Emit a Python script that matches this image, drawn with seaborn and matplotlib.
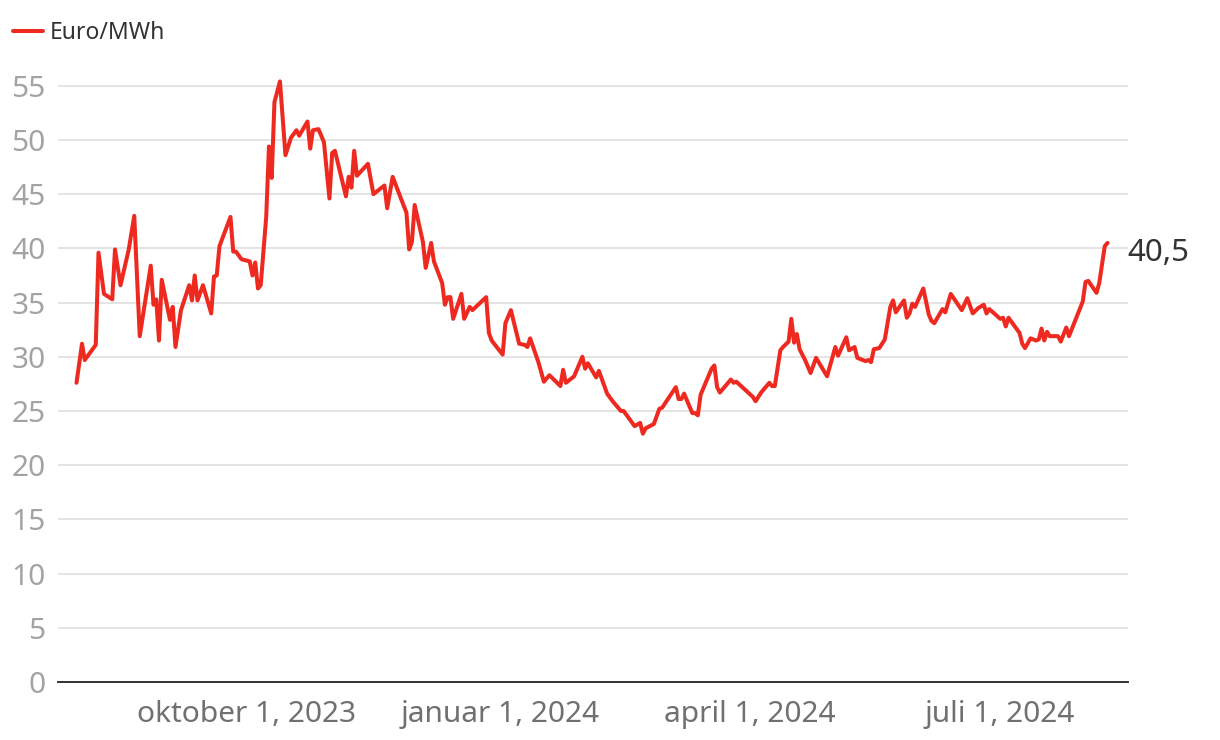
import pandas as pd
import matplotlib
matplotlib.use("Agg")
import matplotlib.pyplot as plt
import seaborn as sns

# Strømpris (Euro/MWh), lest av figuren
dates = [
    "2023-07-31", "2023-08-02", "2023-08-03", "2023-08-07", "2023-08-08", "2023-08-10",
    "2023-08-13", "2023-08-14", "2023-08-16", "2023-08-19", "2023-08-21", "2023-08-23",
    "2023-08-27", "2023-08-28", "2023-08-29", "2023-08-30", "2023-08-31",
    "2023-09-03", "2023-09-04", "2023-09-05", "2023-09-07", "2023-09-10", "2023-09-11",
    "2023-09-12", "2023-09-13", "2023-09-15", "2023-09-18", "2023-09-19", "2023-09-20",
    "2023-09-21", "2023-09-25", "2023-09-26", "2023-09-27", "2023-09-29",
    "2023-10-02", "2023-10-03", "2023-10-04", "2023-10-05", "2023-10-06", "2023-10-08",
    "2023-10-09", "2023-10-10", "2023-10-11", "2023-10-13", "2023-10-15", "2023-10-17",
    "2023-10-19", "2023-10-20", "2023-10-23", "2023-10-24", "2023-10-25", "2023-10-27",
    "2023-10-29", "2023-10-31",
    "2023-11-01", "2023-11-02", "2023-11-06", "2023-11-07", "2023-11-08", "2023-11-09",
    "2023-11-10", "2023-11-14", "2023-11-16", "2023-11-20", "2023-11-21", "2023-11-23",
    "2023-11-26", "2023-11-28", "2023-11-29", "2023-11-30",
    "2023-12-01", "2023-12-04", "2023-12-05", "2023-12-07", "2023-12-08", "2023-12-11",
    "2023-12-12", "2023-12-13", "2023-12-14", "2023-12-15", "2023-12-18", "2023-12-19",
    "2023-12-21", "2023-12-22", "2023-12-27", "2023-12-28", "2023-12-29",
    "2024-01-02", "2024-01-03", "2024-01-05", "2024-01-08", "2024-01-10", "2024-01-11",
    "2024-01-12", "2024-01-15", "2024-01-17", "2024-01-19", "2024-01-23", "2024-01-24",
    "2024-01-25", "2024-01-28", "2024-01-31",
    "2024-02-01", "2024-02-02", "2024-02-05", "2024-02-06", "2024-02-07", "2024-02-09",
    "2024-02-11", "2024-02-14", "2024-02-15", "2024-02-19", "2024-02-21", "2024-02-22",
    "2024-02-23", "2024-02-26", "2024-02-28", "2024-02-29",
    "2024-03-05", "2024-03-06", "2024-03-07", "2024-03-08", "2024-03-11", "2024-03-12",
    "2024-03-13", "2024-03-14", "2024-03-18", "2024-03-19", "2024-03-20", "2024-03-21",
    "2024-03-25", "2024-03-26", "2024-03-27",
    "2024-04-02", "2024-04-03", "2024-04-05", "2024-04-08", "2024-04-09", "2024-04-10",
    "2024-04-12", "2024-04-13", "2024-04-15", "2024-04-16", "2024-04-17", "2024-04-18",
    "2024-04-19", "2024-04-21", "2024-04-23", "2024-04-25", "2024-04-29",
    "2024-05-02", "2024-05-03", "2024-05-06", "2024-05-07", "2024-05-09", "2024-05-10",
    "2024-05-13", "2024-05-14", "2024-05-15", "2024-05-16", "2024-05-18", "2024-05-20",
    "2024-05-22", "2024-05-23", "2024-05-24", "2024-05-27", "2024-05-28", "2024-05-29",
    "2024-05-30", "2024-05-31",
    "2024-06-03", "2024-06-05", "2024-06-06", "2024-06-07", "2024-06-10", "2024-06-11",
    "2024-06-13", "2024-06-17", "2024-06-19", "2024-06-21", "2024-06-23", "2024-06-25",
    "2024-06-26", "2024-06-27",
    "2024-07-01", "2024-07-02", "2024-07-03", "2024-07-04", "2024-07-08", "2024-07-09",
    "2024-07-10", "2024-07-12", "2024-07-14", "2024-07-15", "2024-07-16", "2024-07-17",
    "2024-07-18", "2024-07-19", "2024-07-22", "2024-07-23", "2024-07-25", "2024-07-26",
    "2024-07-31",
    "2024-08-01", "2024-08-02", "2024-08-05", "2024-08-06", "2024-08-08", "2024-08-09",
]
prices = [
    27.6, 31.2, 29.7, 31.1, 39.6, 35.8,
    35.3, 39.9, 36.6, 39.9, 43.0, 31.9,
    38.4, 34.8, 35.3, 31.5, 37.1,
    33.4, 34.6, 30.9, 34.3, 36.6, 35.2,
    37.5, 35.2, 36.6, 34.0, 37.4, 37.5,
    40.2, 42.9, 39.7, 39.7, 39.0,
    38.8, 37.5, 38.7, 36.3, 36.6, 42.9,
    49.4, 46.5, 53.5, 55.4, 48.6, 50.2,
    50.9, 50.4, 51.7, 49.2, 50.9, 51.0,
    49.8, 44.6,
    48.8, 49.0, 44.8, 46.6, 45.6, 49.0,
    46.7, 47.8, 45.0, 45.8, 43.7, 46.6,
    44.6, 43.3, 39.9, 40.6,
    44.0, 40.6, 38.2, 40.5, 38.8, 36.8,
    34.8, 35.5, 35.5, 33.5, 35.8, 33.5,
    34.6, 34.3, 35.5, 32.2, 31.5,
    30.2, 33.1, 34.3, 31.2, 31.1, 30.9,
    31.7, 29.5, 27.7, 28.3, 27.3, 28.8,
    27.6, 28.2, 30.0,
    28.9, 29.4, 28.1, 28.7, 28.0, 26.6,
    25.9, 25.0, 25.0, 23.6, 23.9, 22.9,
    23.4, 23.8, 25.2, 25.3,
    27.2, 26.1, 26.1, 26.6, 24.8, 24.8,
    24.6, 26.5, 28.9, 29.2, 27.2, 26.7,
    27.9, 27.6, 27.7,
    26.3, 25.9, 26.7, 27.6, 27.3, 27.3,
    30.6, 30.9, 31.4, 33.5, 31.3, 32.1,
    30.7, 29.7, 28.5, 29.9, 28.2,
    30.9, 30.1, 31.8, 30.6, 30.9, 29.9,
    29.6, 29.7, 29.5, 30.7, 30.8, 31.6,
    34.6, 35.2, 34.1, 35.2, 33.6, 34.0,
    34.9, 34.6,
    36.3, 33.9, 33.3, 33.1, 34.4, 34.1,
    35.8, 34.3, 35.4, 34.0, 34.5, 34.8,
    34.0, 34.4,
    33.5, 33.6, 32.8, 33.6, 32.2, 31.2,
    30.8, 31.7, 31.5, 31.6, 32.6, 31.5,
    32.3, 31.9, 31.9, 31.4, 32.7, 31.9,
    35.1,
    36.9, 37.0, 35.9, 36.8, 40.2, 40.5,
]

tick_dates = ["2023-10-01", "2024-01-01", "2024-04-01", "2024-07-01"]
tick_labels = ["oktober 1, 2023", "januar 1, 2024", "april 1, 2024", "juli 1, 2024"]
y_ticks = list(range(0, 56, 5))

df = pd.DataFrame({"dato": pd.to_datetime(dates), "pris": prices})

sns.set_theme(style="white")
plt.rcParams["font.family"] = ["Noto Sans", "DejaVu Sans"]

red = "#ee2a20"

fig = plt.figure(figsize=(12.2, 7.4), dpi=100)
ax = fig.add_axes([0.0475, 0.0784, 0.877, 0.835])

sns.lineplot(data=df, x="dato", y="pris", color=red, linewidth=2.9,
             label="Euro/MWh", ax=ax)

ax.set_xlim(pd.Timestamp("2023-07-24 06:00"), pd.Timestamp("2024-08-16 10:00"))
ax.set_ylim(0, 57)
ax.set_yticks(y_ticks)
ax.set_xticks(pd.to_datetime(tick_dates))
ax.set_xticklabels(tick_labels)
ax.set_xlabel("")
ax.set_ylabel("")

ax.grid(axis="y", color="#e2e2e2", linewidth=1.3)
ax.set_axisbelow(True)
for side in ["left", "right", "top"]:
    ax.spines[side].set_visible(False)
ax.spines["bottom"].set_color("#333333")
ax.spines["bottom"].set_linewidth(1.4)

ax.tick_params(axis="y", length=0, pad=9, labelsize=21.5, labelcolor="#a3a3a3")
ax.tick_params(axis="x", length=0, pad=13, labelsize=21.5, labelcolor="#707070")

# siste verdi
last = df.iloc[-1]
ax.annotate(f"{last['pris']:.1f}".replace(".", ","), xy=(last["dato"], last["pris"]),
            xytext=(14, -7), textcoords="offset points", va="center", ha="left",
            fontsize=22.5, color="#333333", annotation_clip=False)

ax.get_legend().remove()
fig.legend(loc="upper left", bbox_to_anchor=(-0.006, 1.0), frameon=False,
           handlelength=1.3, handletextpad=0.3, fontsize=16.5,
           labelcolor="#333333")

fig.savefig("out.png", dpi=100)
